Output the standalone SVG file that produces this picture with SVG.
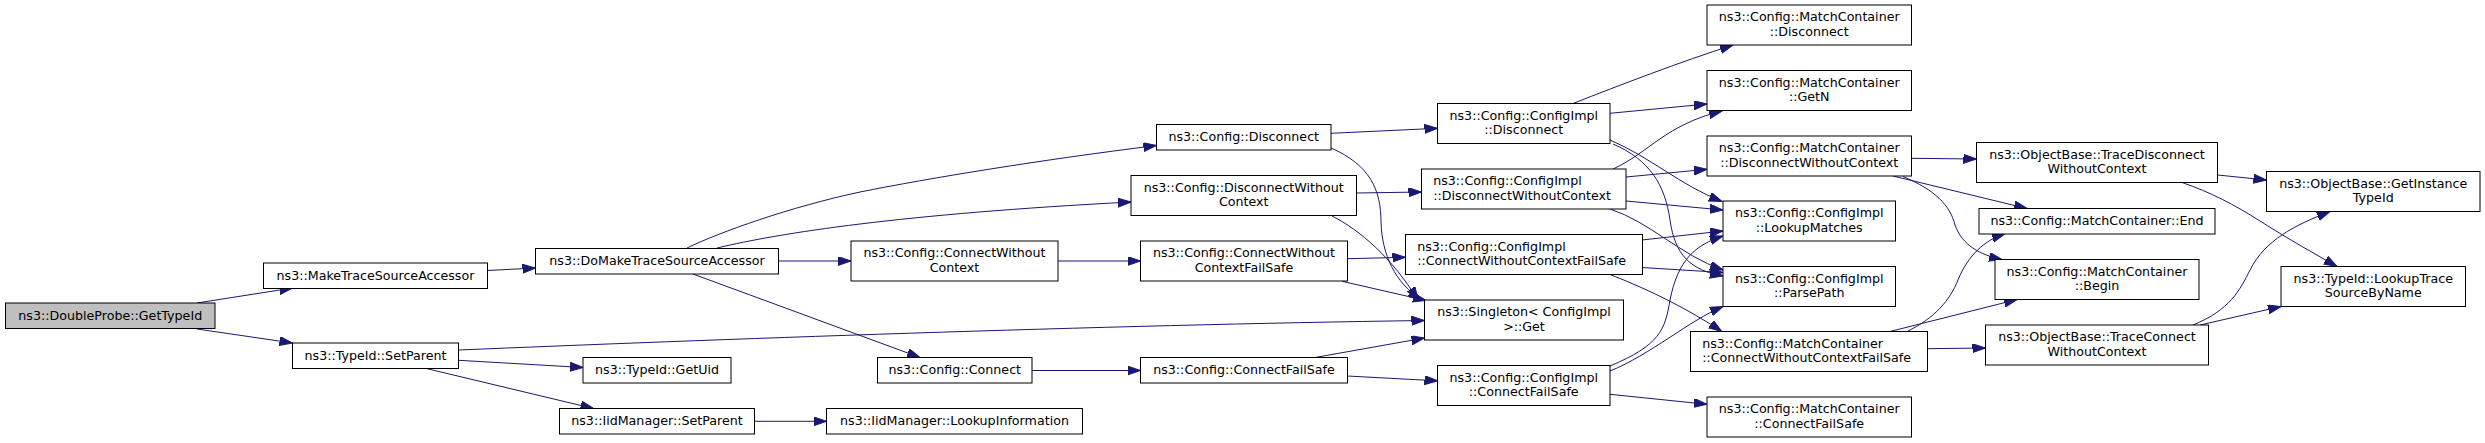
<svg xmlns="http://www.w3.org/2000/svg" width="2485" height="443" viewBox="0 0 2485 443">
<defs>
<style>
.node rect{fill:#ffffff;stroke:#000000;stroke-width:1}
.node.root rect{fill:#bfbfbf}
.node text{font-family:"DejaVu Sans","Liberation Sans",sans-serif;font-size:12.67px;fill:#000000;text-anchor:middle}
.node text.l{text-anchor:start}
.edges path{fill:none;stroke:#191970;stroke-width:1;marker-end:url(#arr)}
</style>
<marker id="arr" markerUnits="userSpaceOnUse" markerWidth="14" markerHeight="10" refX="13" refY="4.5" orient="auto">
<path d="M0,0 L13,4.5 L0,9 z" fill="#191970" stroke="#191970" stroke-width="1"/>
</marker>
</defs>
<rect width="2485" height="443" fill="#ffffff"/>
<g class="edges">
<path d="M197,303 L292.5,288"/>
<path d="M197,329 L292.5,343"/>
<path d="M487.7,270.5 L535.5,268"/>
<path d="M687,248 C720,232 790,207 860,192 C930,178 1040,160 1156.5,145.5"/>
<path d="M717,248 C780,233 900,214 1131,202"/>
<path d="M778.7,261 L851,261"/>
<path d="M693,274 L920,357.5"/>
<path d="M458.5,350 C700,340 1100,325 1424.5,320.5"/>
<path d="M458.5,360.3 L583,367.5"/>
<path d="M427,368.7 L593.5,408.5"/>
<path d="M754.5,421.3 L826.5,421.3"/>
<path d="M1032,370.5 L1140.5,370.5"/>
<path d="M1058,261 L1140.5,261"/>
<path d="M1331,133.3 L1437.5,128.3"/>
<path d="M1331,148 C1370,165 1381,190 1381,222 C1382,255 1395,282 1421,300"/>
<path d="M1356.7,193 L1421.5,192"/>
<path d="M1332,216 C1360,230 1392,258 1418,300"/>
<path d="M1347.3,258.7 L1405.5,257.3"/>
<path d="M1342,281.3 L1426,300.5"/>
<path d="M1315,357.5 L1424.5,338"/>
<path d="M1347.3,376 L1437.5,380.8"/>
<path d="M1573,103.5 C1620,85 1680,62 1733,45"/>
<path d="M1610,113.3 L1707,104"/>
<path d="M1610,140 C1650,157 1680,185 1722,201.5"/>
<path d="M1613,144 C1650,160 1665,185 1670,220 C1675,255 1690,270 1723,276"/>
<path d="M1613,169 C1650,152 1665,125 1722,111"/>
<path d="M1626,177 L1707,169.3"/>
<path d="M1626,201 L1723,210"/>
<path d="M1610,209 C1650,222 1680,255 1723,270"/>
<path d="M1642,240 L1723,231"/>
<path d="M1642,267.5 L1723,272.5"/>
<path d="M1610,274.5 C1650,290 1690,310 1721.7,331.5"/>
<path d="M1610,366 C1660,345 1665,330 1670,300 C1678,260 1695,245 1723,236"/>
<path d="M1610,371 C1650,355 1690,320 1723,306.5"/>
<path d="M1610,394.3 L1707,404.3"/>
<path d="M1911.3,158.3 L1976.5,159"/>
<path d="M1893,176 L2027,208.5"/>
<path d="M1903,176.5 C1935,190 1950,205 1955,225 C1962,245 1980,255 2002,259.5"/>
<path d="M1907,331.5 C1935,318 1950,300 1958,280 C1968,255 1985,240 2005,233.7"/>
<path d="M1890,331.5 L2017,299.5"/>
<path d="M1927.3,348.7 L1985.5,348"/>
<path d="M2217.7,175 L2266.5,180"/>
<path d="M2182,182.5 C2210,192 2235,205 2260,221 C2290,240 2315,254 2337,266.5"/>
<path d="M2193,325 C2230,310 2240,290 2250,270 C2265,240 2295,225 2330,211.5"/>
<path d="M2200,325 L2281,306.5"/>
</g>
<g id="n0" class="node root"><rect x="5.5" y="303" width="209.5" height="25.5"/><text x="110.25" y="319.5">ns3::DoubleProbe::GetTypeId</text></g>
<g id="n1" class="node"><rect x="263.5" y="263" width="224" height="25.5"/><text x="375.5" y="279.5">ns3::MakeTraceSourceAccessor</text></g>
<g id="n2" class="node"><rect x="292.5" y="343" width="166" height="25.5"/><text x="375.5" y="359.5">ns3::TypeId::SetParent</text></g>
<g id="n3" class="node"><rect x="535.5" y="248.5" width="243" height="25.5"/><text x="657" y="265">ns3::DoMakeTraceSourceAccessor</text></g>
<g id="n4" class="node"><rect x="583" y="357.5" width="148" height="25.5"/><text x="657" y="374">ns3::TypeId::GetUid</text></g>
<g id="n5" class="node"><rect x="559.5" y="408.5" width="195" height="25.5"/><text x="657" y="425">ns3::IidManager::SetParent</text></g>
<g id="n6" class="node"><rect x="826.5" y="408.5" width="256" height="25.5"/><text x="954.5" y="425">ns3::IidManager::LookupInformation</text></g>
<g id="n7" class="node"><rect x="877.5" y="357.5" width="154.5" height="25.5"/><text x="954.75" y="374">ns3::Config::Connect</text></g>
<g id="n8" class="node"><rect x="851" y="241" width="207" height="40"/><text x="954.5" y="257">ns3::Config::ConnectWithout</text><text x="954.5" y="271.7">Context</text></g>
<g id="n9" class="node"><rect x="1156.5" y="124.5" width="174.5" height="25.5"/><text x="1243.75" y="141">ns3::Config::Disconnect</text></g>
<g id="n10" class="node"><rect x="1131" y="175.5" width="225.5" height="40"/><text x="1243.75" y="191.5">ns3::Config::DisconnectWithout</text><text x="1243.75" y="206.2">Context</text></g>
<g id="n11" class="node"><rect x="1140.5" y="241" width="207" height="40"/><text x="1244" y="257">ns3::Config::ConnectWithout</text><text x="1244" y="271.7">ContextFailSafe</text></g>
<g id="n12" class="node"><rect x="1140.5" y="357.5" width="207" height="25.5"/><text x="1244" y="374">ns3::Config::ConnectFailSafe</text></g>
<g id="n13" class="node"><rect x="1437.5" y="103.5" width="172.5" height="40"/><text x="1523.75" y="119.5">ns3::Config::ConfigImpl</text><text x="1523.75" y="134.2">::Disconnect</text></g>
<g id="n14" class="node"><rect x="1421.5" y="169" width="204.5" height="40"/><text class="l" x="1433.2" y="185">ns3::Config::ConfigImpl</text><text class="l" x="1433.2" y="199.7">::DisconnectWithoutContext</text></g>
<g id="n15" class="node"><rect x="1424.5" y="300" width="199" height="40"/><text x="1524" y="316">ns3::Singleton&lt; ConfigImpl</text><text x="1524" y="330.7">&gt;::Get</text></g>
<g id="n16" class="node"><rect x="1405.5" y="234.5" width="237" height="40"/><text class="l" x="1417.2" y="250.5">ns3::Config::ConfigImpl</text><text class="l" x="1417.2" y="265.2">::ConnectWithoutContextFailSafe</text></g>
<g id="n17" class="node"><rect x="1437.5" y="365.5" width="172.5" height="40"/><text x="1523.75" y="381.5">ns3::Config::ConfigImpl</text><text x="1523.75" y="396.2">::ConnectFailSafe</text></g>
<g id="n18" class="node"><rect x="1707" y="5" width="204.5" height="40"/><text x="1809.25" y="21">ns3::Config::MatchContainer</text><text x="1809.25" y="35.7">::Disconnect</text></g>
<g id="n19" class="node"><rect x="1707" y="70.5" width="204.5" height="40"/><text x="1809.25" y="86.5">ns3::Config::MatchContainer</text><text x="1809.25" y="101.2">::GetN</text></g>
<g id="n20" class="node"><rect x="1707" y="136" width="204.5" height="40"/><text x="1809.25" y="152">ns3::Config::MatchContainer</text><text x="1809.25" y="166.7">::DisconnectWithoutContext</text></g>
<g id="n21" class="node"><rect x="1723" y="201" width="172.5" height="40"/><text x="1809.25" y="217">ns3::Config::ConfigImpl</text><text x="1809.25" y="231.7">::LookupMatches</text></g>
<g id="n22" class="node"><rect x="1723" y="266.5" width="172.5" height="40"/><text x="1809.25" y="282.5">ns3::Config::ConfigImpl</text><text x="1809.25" y="297.2">::ParsePath</text></g>
<g id="n23" class="node"><rect x="1690.5" y="331.5" width="237" height="40"/><text class="l" x="1702.2" y="347.5">ns3::Config::MatchContainer</text><text class="l" x="1702.2" y="362.2">::ConnectWithoutContextFailSafe</text></g>
<g id="n24" class="node"><rect x="1707" y="397" width="204.5" height="40"/><text x="1809.25" y="413">ns3::Config::MatchContainer</text><text x="1809.25" y="427.7">::ConnectFailSafe</text></g>
<g id="n25" class="node"><rect x="1976.5" y="142.5" width="241" height="40"/><text x="2097" y="158.5">ns3::ObjectBase::TraceDisconnect</text><text x="2097" y="173.2">WithoutContext</text></g>
<g id="n26" class="node"><rect x="1979" y="208.5" width="236" height="25.5"/><text x="2097" y="225">ns3::Config::MatchContainer::End</text></g>
<g id="n27" class="node"><rect x="1995" y="259.5" width="204" height="40"/><text x="2097" y="275.5">ns3::Config::MatchContainer</text><text x="2097" y="290.2">::Begin</text></g>
<g id="n28" class="node"><rect x="1985.5" y="325" width="223" height="40"/><text x="2097" y="341">ns3::ObjectBase::TraceConnect</text><text x="2097" y="355.7">WithoutContext</text></g>
<g id="n29" class="node"><rect x="2266.5" y="171.5" width="213.5" height="40"/><text x="2373.25" y="187.5">ns3::ObjectBase::GetInstance</text><text x="2373.25" y="202.2">TypeId</text></g>
<g id="n30" class="node"><rect x="2281" y="266.5" width="184.5" height="40"/><text x="2373.25" y="282.5">ns3::TypeId::LookupTrace</text><text x="2373.25" y="297.2">SourceByName</text></g>
</svg>
